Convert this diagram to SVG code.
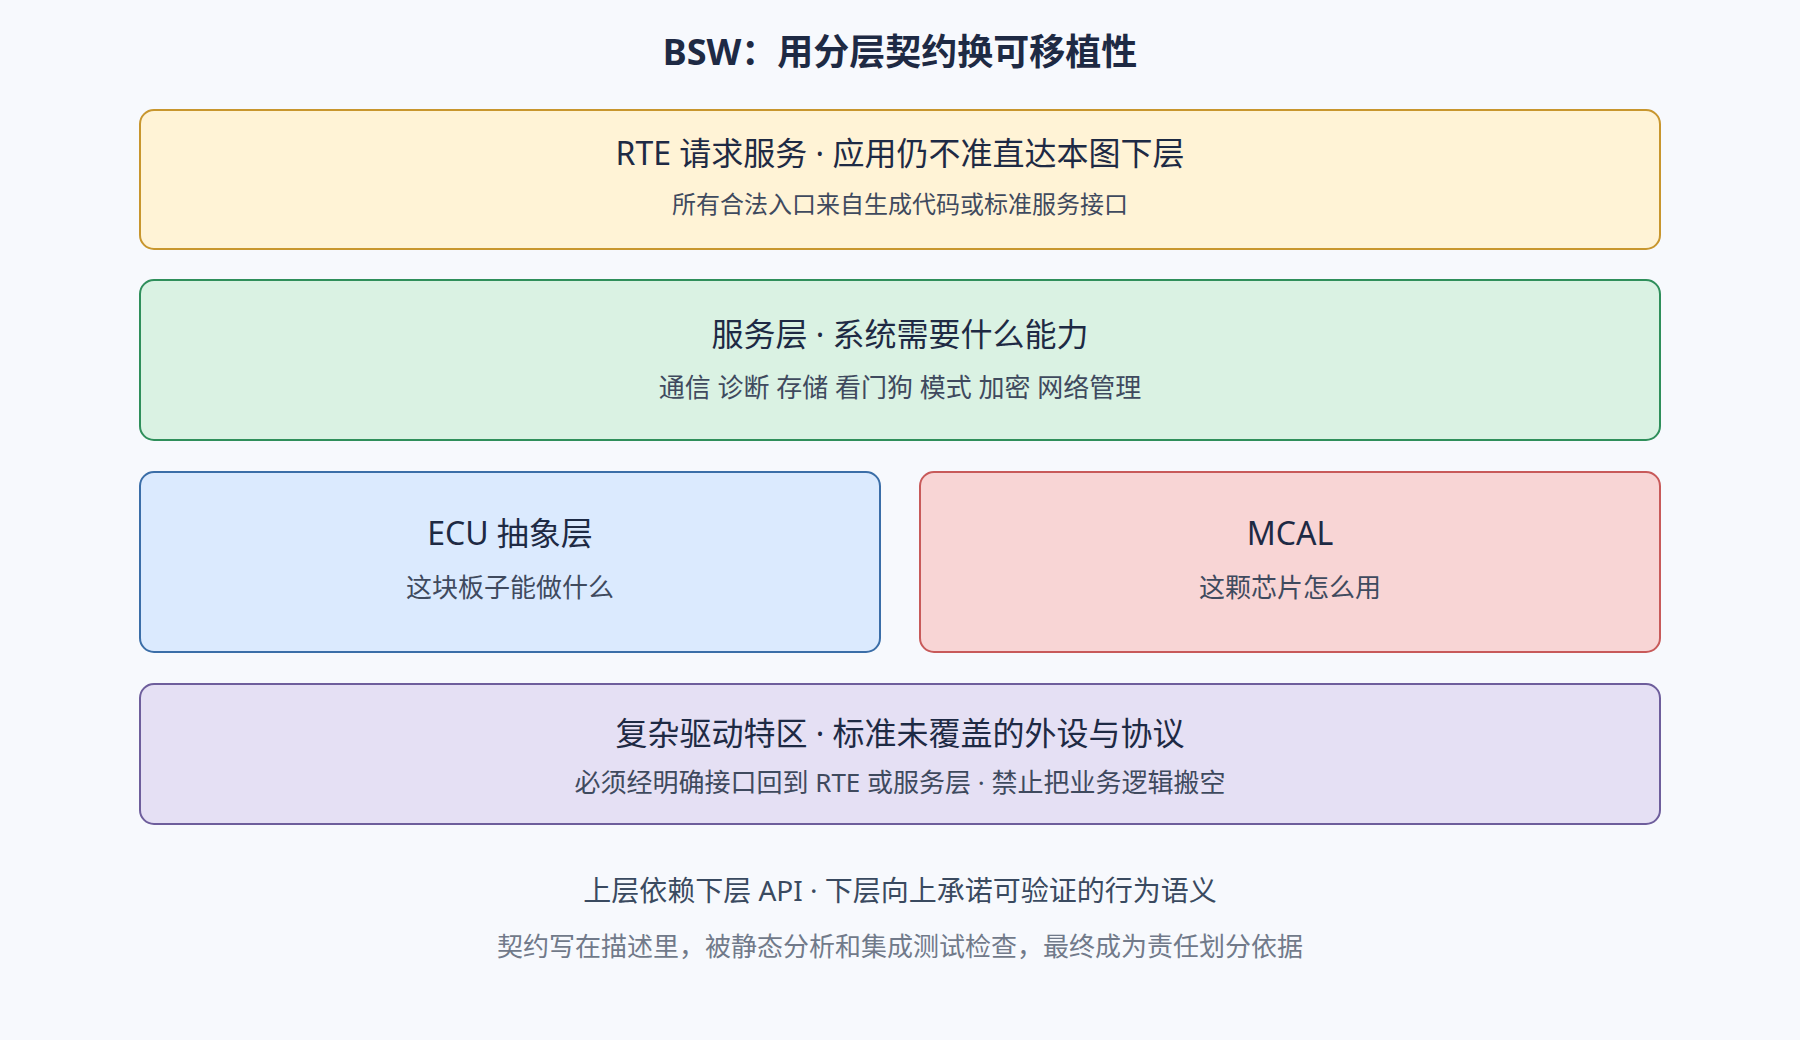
<svg xmlns="http://www.w3.org/2000/svg" width="1800" height="1040" viewBox="0 0 1800 1040">
<style>
text{font-family:"Noto Sans","Noto Sans CJK SC",sans-serif;text-anchor:middle}
.h{font-size:32px;fill:#1e2a44}
.s{font-size:26px;fill:#3f4a5e}
.box{stroke-width:2}
</style>
<rect width="1800" height="1040" fill="#f7f9fd"/>
<text x="900" y="65" font-size="36" font-weight="700" fill="#1e2a44">BSW：用分层契约换可移植性</text>
<g id="rte">
<rect class="box" x="140" y="110" width="1520" height="139" rx="14" fill="#fff3d6" stroke="#c8962e"/>
<text class="h" x="900" y="165">RTE 请求服务 · 应用仍不准直达本图下层</text>
<text class="s" x="900" y="213" style="font-size:24px">所有合法入口来自生成代码或标准服务接口</text>
</g>
<g id="services">
<rect class="box" x="140" y="280" width="1520" height="160" rx="14" fill="#daf2e3" stroke="#2f8f5b"/>
<text class="h" x="900" y="346">服务层 · 系统需要什么能力</text>
<text class="s" x="900" y="397">通信 诊断 存储 看门狗 模式 加密 网络管理</text>
</g>
<g id="ecu">
<rect class="box" x="140" y="472" width="740" height="180" rx="14" fill="#dbeafe" stroke="#3b6ea8"/>
<text class="h" x="510" y="545">ECU 抽象层</text>
<text class="s" x="510" y="597">这块板子能做什么</text>
</g>
<g id="mcal">
<rect class="box" x="920" y="472" width="740" height="180" rx="14" fill="#f8d5d5" stroke="#c85a5a"/>
<text class="h" x="1290" y="545">MCAL</text>
<text class="s" x="1290" y="597">这颗芯片怎么用</text>
</g>
<g id="cdd">
<rect class="box" x="140" y="684" width="1520" height="140" rx="14" fill="#e5e0f4" stroke="#6e5e9c"/>
<text class="h" x="900" y="745">复杂驱动特区 · 标准未覆盖的外设与协议</text>
<text class="s" x="900" y="792">必须经明确接口回到 RTE 或服务层 · 禁止把业务逻辑搬空</text>
</g>
<g id="connectors"/>
<g id="notes">
<text x="900" y="901" font-size="28" fill="#3a4a60">上层依赖下层 API · 下层向上承诺可验证的行为语义</text>
<text x="900" y="956" font-size="26" fill="#717a8a">契约写在描述里，被静态分析和集成测试检查，最终成为责任划分依据</text>
</g>
</svg>
